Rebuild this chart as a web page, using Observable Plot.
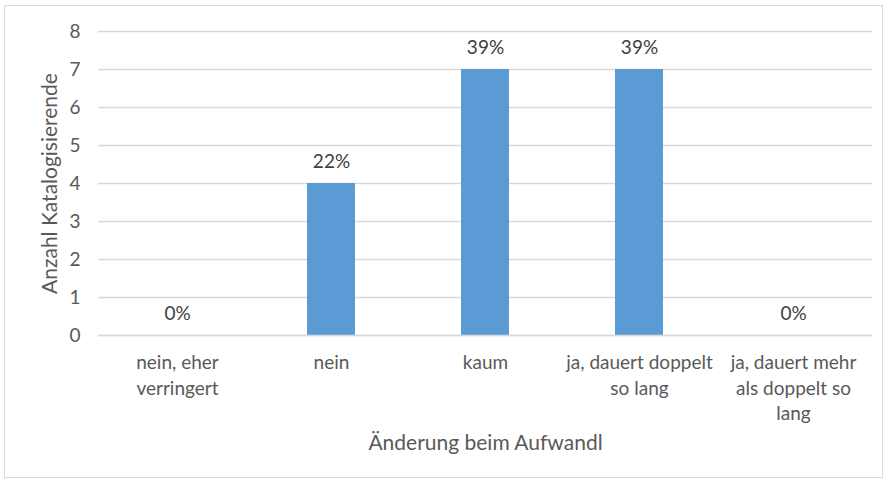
<!DOCTYPE html>
<html>
<head>
<meta charset="utf-8">
<script src="https://cdn.jsdelivr.net/npm/d3@7"></script>
<script src="https://cdn.jsdelivr.net/npm/@observablehq/plot@0.6"></script>
<style>
  html, body { margin: 0; padding: 0; background: #fff; }
  #wrap { position: relative; width: 889px; height: 484px; }
  #border { position: absolute; left: 4px; top: 5px; width: 879px; height: 473px; border: 1.5px solid #d9d9d9; box-sizing: border-box; }
  #chart { position: absolute; left: 0; top: 0; }
</style>
</head>
<body>
<div id="wrap"><div id="border"></div><div id="chart"></div></div>
<script>
const categories = ["nein, eher verringert", "nein", "kaum", "ja, dauert doppelt so lang", "ja, dauert mehr als doppelt so lang"];
const categoryLabels = ["nein, eher\nverringert", "nein", "kaum", "ja, dauert doppelt\nso lang", "ja, dauert mehr\nals doppelt so\nlang"];
const counts = [0, 4, 7, 7, 0];
const percentLabels = ["0%", "22%", "39%", "39%", "0%"];
const yTicks = [0, 1, 2, 3, 4, 5, 6, 7, 8];
const xTitle = "Änderung beim Aufwandl";
const yTitle = "Anzahl Katalogisierende";

const data = categories.map((c, i) => ({cat: c, label: categoryLabels[i], count: counts[i], pct: percentLabels[i]}));
const labelOf = new Map(categories.map((c, i) => [c, categoryLabels[i]]));

const font = "Lato, 'Open Sans', sans-serif";
const plot = Plot.plot({
  width: 889,
  height: 484,
  marginLeft: 98,
  marginRight: 17,
  marginTop: 31,
  marginBottom: 149,
  style: {fontFamily: font, fontSize: "19px", color: "#595959", background: "transparent"},
  x: {domain: categories, paddingInner: 0.69, paddingOuter: 0.345, label: null},
  y: {domain: [0, 8], label: null},
  marks: [
    Plot.gridY(yTicks, {stroke: "#d9d9d9", strokeOpacity: 1, strokeWidth: 1.3}),
    Plot.barY(data, {x: "cat", y: "count", fill: "#5b9bd5"}),
    Plot.ruleY([0], {stroke: "#d9d9d9", strokeWidth: 1.3}),
    Plot.text(data, {x: "cat", y: "count", text: "pct", dy: -22, fill: "#404040", fontSize: 19}),
    Plot.axisY(yTicks, {tickSize: 0, tickPadding: 18, fill: "#595959", fontSize: 19, label: null}),
    Plot.axisX({tickSize: 0, tickPadding: 16, tickFormat: d => labelOf.get(d), lineHeight: 1.33, fill: "#595959", fontSize: 19, label: null}),
    Plot.text([xTitle], {frameAnchor: "bottom", dy: 114, fill: "#595959", fontSize: 21}),
    Plot.text([yTitle], {frameAnchor: "left", textAnchor: "middle", rotate: -90, dx: -48, fill: "#595959", fontSize: 21})
  ]
});
document.getElementById("chart").appendChild(plot);
</script>
</body>
</html>
